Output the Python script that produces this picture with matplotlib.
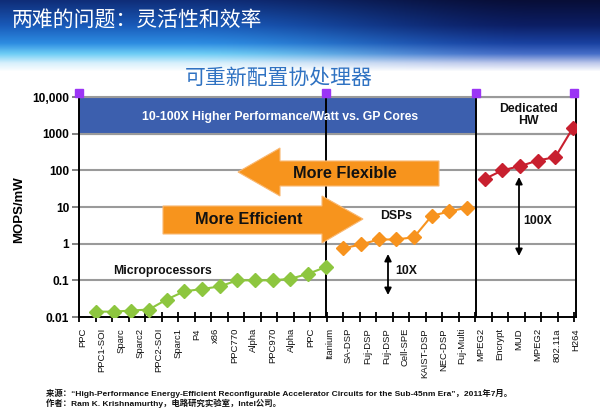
import numpy as np
import matplotlib
matplotlib.use("Agg")
import matplotlib.pyplot as plt
from matplotlib.patches import Polygon

# ---------------- data ----------------
cpu_names = ["PPC", "PPC1-SOI", "Sparc", "Sparc2", "PPC2-SOI", "Sparc1", "P4", "x86",
             "PPC770", "Alpha", "PPC970", "Alpha", "PPC", "Itanium"]
dsp_names = ["SA-DSP", "Fuj-DSP", "Fuj-DSP", "Cell-SPE", "KAIST-DSP", "NEC-DSP", "Fuj-Multi"]
hw_names = ["MPEG2", "Encrypt", "MUD", "MPEG2", "802.11a", "H264"]
tick_labels = cpu_names + dsp_names + hw_names

cpu_values = [0.014, 0.014, 0.015, 0.016, 0.03, 0.05, 0.058, 0.068, 0.1, 0.1, 0.1, 0.11, 0.15, 0.23]
dsp_values = [0.75, 0.95, 1.3, 1.3, 1.5, 5.7, 7.6, 9.6]
hw_values = [58, 100, 130, 185, 230, 1450]

ytick_values = [0.01, 0.1, 1, 10, 100, 1000, 10000]
ytick_text = ["0.01", "0.1", "1", "10", "100", "1000", "10,000"]

title = "两难的问题：灵活性和效率"
subtitle = "可重新配置协处理器"
band_text = "10-100X Higher Performance/Watt vs. GP Cores"
footer1 = "来源：“High-Performance Energy-Efficient Reconfigurable Accelerator Circuits for the Sub-45nm Era”，2011年7月。"
footer2 = "作者：Ram K. Krishnamurthy，电路研究实验室，Intel公司。"

# ---------------- figure ----------------
W, H = 600, 413
fig = plt.figure(figsize=(6, 4.13), dpi=100)
fig.patch.set_facecolor("white")

# header background
hh = 72
yy, xx = np.mgrid[0:hh, 0:W]
ty = yy / (hh - 1)
stops = [0, 0.35, 0.6, 0.75, 0.88, 1.0]
left_c = np.array([(15, 45, 120), (25, 90, 185), (45, 140, 225), (110, 205, 245), (215, 240, 252), (255, 255, 255)])
right_c = np.array([(8, 14, 55), (12, 30, 100), (25, 65, 160), (70, 110, 200), (190, 200, 235), (255, 255, 255)])
img = np.zeros((hh, W, 3))
wx = np.clip((xx / (W - 1) - 0.3) / 0.6, 0, 1)
wx = wx * wx * (3 - 2 * wx)
for c in range(3):
    lc = np.interp(ty, stops, left_c[:, c])
    rc = np.interp(ty, stops, right_c[:, c])
    img[..., c] = lc * (1 - wx) + rc * wx
img = np.clip(img / 255.0, 0, 1)
hax = fig.add_axes([0, 1 - hh / H, 1, hh / H], zorder=-5)
hax.imshow(img, aspect="auto", interpolation="bilinear")
hax.axis("off")

fig.text(12 / W, 1 - 21 / H, title, color="white", fontsize=15,
         family=["Noto Sans CJK SC", "DejaVu Sans"], va="center", ha="left")
fig.text(279 / W, 1 - 78 / H, subtitle, color="#2f72c2", fontsize=15, style="italic",
         family=["Noto Sans CJK SC", "DejaVu Sans"], va="center", ha="center")

# main axes
L, R, T, B = 79, 576, 97, 317
ax = fig.add_axes([L / W, 1 - B / H, (R - L) / W, (B - T) / H])
ax.set_yscale("log")
ax.set_ylim(0.01, 10000)
xlim = (-0.96, 27.06)
ax.set_xlim(*xlim)

def axf(px, py):
    return ((px - L) / (R - L), (B - py) / (B - T))

n_cpu, n_dsp = len(cpu_values), len(dsp_values)
x_cpu = np.arange(n_cpu)
x_dsp = np.arange(n_cpu, n_cpu + n_dsp)
x_hw = np.arange(n_cpu + n_dsp, n_cpu + n_dsp + len(hw_values))
v1 = x_cpu[-1]
v2 = (x_dsp[-1] + x_hw[0]) / 2

# gridlines
for yv in ytick_values[1:]:
    ax.axhline(yv, color="#9a9a9a", lw=1.5, zorder=1)

# blue band
ax.fill_between([xlim[0], v2], 1000, 10000, color="#3c5fae", zorder=1.5, lw=0)
ax.axhline(1000, color="#9a9a9a", lw=1.5, zorder=1.6)
ax.axhline(10000, color="#9a9a9a", lw=1.5, zorder=1.6)

# vertical separators
for xv in (v1, v2):
    ax.axvline(xv, color="black", lw=1.4, zorder=2)

# spines
for s in ("left", "bottom", "right"):
    ax.spines[s].set_color("black")
    ax.spines[s].set_linewidth(1.4)
ax.spines["top"].set_color("#9a9a9a")
ax.spines["top"].set_linewidth(1.5)

# orange arrows
orange = "#f7941d"
flex = [(238, 172), (280, 148), (280, 161), (439, 161), (439, 186), (280, 186), (280, 196)]
eff = [(163, 206), (322, 206), (322, 196), (363, 219), (322, 243), (322, 234), (163, 234)]
for pts in (flex, eff):
    ax.add_patch(Polygon([axf(*p) for p in pts], closed=True, transform=ax.transAxes,
                         facecolor=orange, edgecolor="#f9b872", lw=0.8, zorder=3))
ax.text(*axf(345, 173), "More Flexible", transform=ax.transAxes, ha="center", va="center",
        fontsize=11.7, fontweight="bold", family="Liberation Sans", color="#111111", zorder=4)
ax.text(*axf(249, 220), "More Efficient", transform=ax.transAxes, ha="center", va="center",
        fontsize=11.7, fontweight="bold", family="Liberation Sans", color="#111111", zorder=4)

# series
ax.plot(x_cpu, cpu_values, color="#8dc63f", lw=1.5, marker="D", ms=7.5, mec="#8dc63f", zorder=5)
ax.plot(x_dsp, dsp_values, color="#f7931e", lw=1.5, marker="D", ms=7.5, mec="#f7931e", zorder=5)
ax.plot(x_hw, hw_values, color="#c8202f", lw=1.5, marker="D", ms=7.5, mec="#c8202f", zorder=5)

# annotations
tk = dict(transform=ax.transAxes, fontsize=8.8, fontweight="bold", family="Liberation Sans",
          color="#111111", zorder=6)
ax.text(*axf(280, 117), band_text, ha="center", va="center", **{**tk, "color": "white"})
ax.text(*axf(528, 115), "Dedicated\nHW", ha="center", va="center", linespacing=1.05, **tk)
ax.text(*axf(162, 271), "Microprocessors", ha="center", va="center", **tk)
ax.text(*axf(396, 216), "DSPs", ha="center", va="center", **tk)
ax.text(*axf(395, 271), "10X", ha="left", va="center", **tk)
ax.text(*axf(523, 221), "100X", ha="left", va="center", **tk)
for (px, y0, y1) in ((388, 254, 295), (519, 177, 256)):
    ax.annotate("", xy=axf(px, y0), xytext=axf(px, y1), xycoords="axes fraction",
                arrowprops=dict(arrowstyle="<|-|>", color="black", lw=1.3,
                                mutation_scale=10, shrinkA=0, shrinkB=0), zorder=6)

# purple corner squares
ax.plot([xlim[0], v1, v2, xlim[1]], [13000] * 4, ls="none", marker="s", ms=5.5,
        color="#9b35f5", clip_on=False, zorder=7)

# y axis
ax.set_yticks(ytick_values)
ax.set_yticklabels(ytick_text, fontsize=8.6, fontweight="bold", family="Liberation Sans")
ax.yaxis.set_minor_locator(matplotlib.ticker.NullLocator())
ax.tick_params(axis="y", which="major", length=5, width=1.3, color="#777777", pad=2)
ax.set_ylabel("MOPS/mW", fontsize=9.5, fontweight="bold", family="Liberation Sans")
ax.yaxis.set_label_coords(axf(25, 210)[0], axf(25, 210)[1])

# x axis: marks and labels
ax.set_xticks(np.linspace(xlim[0], xlim[1], 31))
ax.set_xticklabels([])
ax.tick_params(axis="x", which="major", direction="inout", length=7, width=1.3, color="black")
ax.set_xticks(np.linspace(-0.73, 27.17, len(tick_labels)), minor=True)
ax.set_xticklabels(tick_labels, minor=True, rotation=90, fontsize=6.8,
                   family="Liberation Sans", color="#111111")
ax.tick_params(axis="x", which="minor", length=0, pad=8)

# footer
ff = ["Liberation Sans", "Noto Sans CJK SC"]
fig.text(46 / W, 1 - 393 / H, footer1, fontsize=6.0, fontweight="bold", family=ff,
         va="center", ha="left", color="#111111")
fig.text(46 / W, 1 - 403 / H, footer2, fontsize=6.0, fontweight="bold", family=ff,
         va="center", ha="left", color="#111111")

fig.savefig("out.png", dpi=100)
